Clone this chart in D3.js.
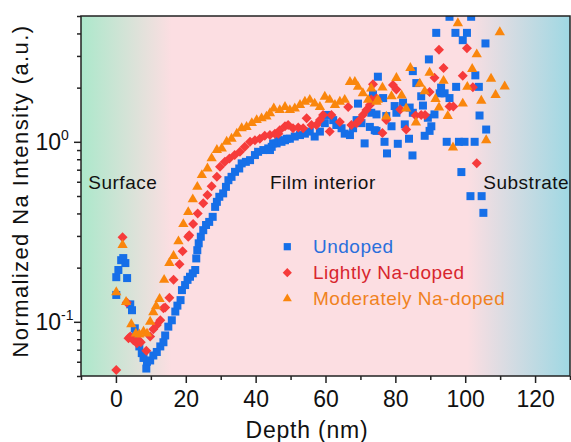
<!DOCTYPE html>
<html>
<head>
<meta charset="utf-8">
<script src="https://cdn.jsdelivr.net/npm/d3@7"></script>
<style>
  body { margin: 0; background: #fff; }
  text { font-family: "Liberation Sans", Arial, sans-serif; }
</style>
</head>
<body>
<div id="vis"></div>
<script>
// depth (nm), normalized Na intensity
var undoped = [[0.1,0.141],[0.1,0.177],[0.7,0.194],[1.5,0.22],[2.1,0.226],[2.7,0.212],[3.2,0.175],[4.1,0.125],[4.6,0.116],
  [5.4,0.092],[5.8,0.084],[6.7,0.073],[7.4,0.067],[7.9,0.063],[8.7,0.055],[8.9,0.060],[9.8,0.061],[10.7,0.065],[11.7,0.068],
  [12.7,0.073],[13.6,0.077],[14.1,0.084],[15.0,0.094],[16.0,0.102],[17.0,0.114],[17.6,0.123],[18.5,0.132],[18.9,0.150],
  [19.8,0.160],[20.5,0.171],[21.2,0.178],[22.0,0.186],[22.7,0.194],[23.0,0.225],[23.3,0.25],[23.7,0.273],[24.3,0.297],
  [25.0,0.323],[25.8,0.345],[26.7,0.359],[27.7,0.383],[28.4,0.435],[28.9,0.464],[29.6,0.495],[30.7,0.517],[31.5,0.562],
  [32.2,0.612],[33.1,0.639],[34.1,0.681],[35.3,0.711],[36.0,0.759],[37.2,0.774],[38.4,0.791],[39.8,0.844],[40.7,0.88],
  [42.2,0.90],[43.6,0.919],[44.1,0.90],[44.6,0.938],[45.0,0.98],[46.0,0.98],[46.5,1.02],[47.4,1.0],[48.4,1.02],[48.9,1.04],
  [49.8,1.04],[51.2,1.07],[52.7,1.09],[54.1,1.11],[55.5,1.14],[56.9,1.07],[58.4,1.14],[59.8,1.27],[60.7,1.41],[62.2,1.32],
  [63.1,1.24],[64.6,1.19],[65.5,1.11],[67.0,1.09],[67.9,1.19],[68.9,1.32],[69.3,1.63],[70.3,1.27],[71.2,0.98],[72.7,1.21],
  [73.1,1.45],[73.6,1.83],[74.1,1.16],[74.6,1.42],[74.6,1.15],[75.0,2.3],[76.5,1.75],[76.9,1.0],[77.4,1.39],[77.6,0.862],
  [78.9,1.22],[79.8,1.58],[80.3,1.45],[80.7,0.975],[82.2,1.65],[82.7,1.25],[83.9,1.04],[84.1,1.55],[84.9,0.84],[85.0,2.47],
  [85.0,1.45],[86.0,2.12],[87.4,1.79],[87.9,1.59],[88.4,1.08],[89.3,1.36],[89.6,2.87],[89.8,1.15],[90.3,1.22],[91.2,1.42],
  [91.7,4.03],[92.7,1.86],[93.1,2.0],[94.1,1.86],[94.7,1.0],[95.5,1.75],[95.5,4.95],[97.2,4.03],[97.4,2.02],[98.2,1.0],
  [98.9,0.679],[99.3,3.67],[99.8,1.0],[100.5,4.03],[101.5,0.499],[101.7,4.95],[102.7,1.0],[102.9,2.34],[103.9,2.02],
  [104.1,1.40],[104.7,0.499],[105.2,0.403],[105.8,3.52],[106.0,1.17]];

var lightly = [[0.1,0.054],[1.9,0.295],[3.1,0.128],[3.6,0.081],[4.1,0.083],[5.0,0.079],[6.0,0.076],[6.5,0.079],[7.1,0.077],
  [8.7,0.069],[9.8,0.083],[10.7,0.091],[11.7,0.096],[12.7,0.102],[13.6,0.119],[14.1,0.12],[15.3,0.136],[16.5,0.171],
  [18.2,0.209],[19.1,0.247],[20.7,0.297],[21.0,0.303],[22.1,0.349],[23.4,0.40],[25.0,0.455],[26.2,0.506],[27.4,0.567],
  [28.9,0.639],[29.8,0.726],[31.2,0.774],[32.5,0.809],[34.0,0.844],[35.5,0.88],[36.9,0.94],[38.4,1.0],[39.8,1.02],
  [41.2,1.04],[42.6,1.08],[44.1,1.09],[45.5,1.11],[46.5,1.11],[46.9,1.16],[48.4,1.22],[49.3,1.24],[50.7,1.19],[52.2,1.20],
  [53.6,1.19],[54.6,1.35],[56.0,1.24],[57.4,1.24],[58.4,1.32],[59.3,1.41],[61.2,1.14],[61.7,1.41],[64.1,1.29],[66.5,1.56],
  [67.4,1.24],[68.9,1.27],[69.8,1.32],[70.7,1.41],[71.7,1.50],[72.7,1.60],[73.1,1.72],[73.6,2.09],[74.6,1.74],[76.3,1.12],
  [77.4,1.32],[79.3,2.07],[80.3,1.95],[81.4,1.51],[83.1,1.17],[85.8,1.40],[87.4,1.41],[88.5,1.41],[89.8,1.89],[91.2,2.27],
  [92.5,3.25],[93.8,2.57],[95.5,1.57],[96.6,1.57],[99.3,2.33],[100.5,3.31],[102.2,2.01],[103.3,0.76]];

var moderately = [[0.1,0.146],[1.9,0.267],[2.9,0.129],[4.4,0.097],[5.7,0.086],[6.7,0.085],[7.9,0.088],[8.9,0.086],[9.8,0.10],
  [10.7,0.113],[11.5,0.122],[12.5,0.134],[13.8,0.171],[15.3,0.212],[16.5,0.232],[17.9,0.28],[19.3,0.349],[20.7,0.407],
  [22.0,0.479],[23.3,0.562],[24.6,0.653],[26.2,0.711],[27.4,0.809],[28.9,0.90],[30.3,0.919],[31.7,1.0],[33.1,1.04],
  [34.6,1.11],[36.0,1.19],[37.4,1.21],[38.9,1.27],[40.3,1.32],[41.7,1.35],[43.1,1.38],[44.1,1.44],[45.2,1.53],[46.9,1.50],
  [48.4,1.56],[49.8,1.50],[51.2,1.53],[52.7,1.60],[54.1,1.67],[55.5,1.71],[56.9,1.63],[58.4,1.56],[59.8,1.78],[61.2,1.71],
  [62.7,1.60],[64.1,1.67],[65.5,1.71],[67.0,2.15],[68.4,2.15],[69.3,2.02],[70.7,1.86],[72.2,1.71],[73.1,1.98],[74.6,1.67],
  [75.0,1.71],[76.3,2.0],[77.4,1.38],[78.9,1.79],[80.3,2.26],[81.8,1.81],[83.1,1.53],[84.3,2.57],[85.9,1.28],[87.0,2.10],
  [88.4,1.91],[89.8,2.42],[91.5,1.73],[92.5,1.55],[93.8,2.18],[95.0,1.39],[96.5,0.93],[97.9,4.56],[99.3,1.63],[100.6,2.02],
  [102.0,2.54],[103.3,3.06],[104.6,1.69],[106.0,1.02],[107.4,2.24],[108.7,1.82],[109.9,4.06],[111.3,2.03]];

var seriesNames = ['Undoped', 'Lightly Na-doped', 'Moderately Na-doped'];
var xMajor = [0, 20, 40, 60, 80, 100, 120];
var xMinor = [-10, 10, 30, 50, 70, 90, 110, 130];
var yMajor = [0.1, 1];
var yMajorExp = ['-1', '0'];
var yMinor = [0.05, 0.06, 0.07, 0.08, 0.09, 0.2, 0.3, 0.4, 0.5, 0.6, 0.7, 0.8, 0.9, 2, 3, 4, 5];
var regions = [{name: 'Surface', x: 88.3}, {name: 'Film interior', x: 270}, {name: 'Substrate', x: 483.3}];

var width = 571, height = 442;
var plotLeft = 81, plotRight = 570, plotTop = 16, plotBottom = 376;

var x = d3.scaleLinear().domain([-10, 130]).range([plotLeft, plotRight]);
var y = d3.scaleLog().domain([0.05, 5]).range([plotBottom, plotTop]);

var svg = d3.select('#vis').append('svg')
  .attr('width', width)
  .attr('height', height);

var defs = svg.append('defs');
var grad = defs.append('linearGradient')
  .attr('id', 'bg')
  .attr('gradientUnits', 'userSpaceOnUse')
  .attr('x1', plotLeft).attr('x2', plotRight).attr('y1', 0).attr('y2', 0);
grad.append('stop').attr('offset', 0).attr('stop-color', '#ace8cb');
grad.append('stop').attr('offset', 0.185).attr('stop-color', '#fcdee2');
grad.append('stop').attr('offset', 0.79).attr('stop-color', '#fcdee2');
grad.append('stop').attr('offset', 1).attr('stop-color', '#9fd8e3');

defs.append('clipPath').attr('id', 'plotclip')
  .append('rect')
  .attr('x', plotLeft).attr('y', plotTop)
  .attr('width', plotRight - plotLeft).attr('height', plotBottom - plotTop);

svg.append('rect')
  .attr('x', plotLeft).attr('y', plotTop)
  .attr('width', plotRight - plotLeft).attr('height', plotBottom - plotTop)
  .attr('fill', 'url(#bg)');

// region labels
svg.selectAll('.region')
  .data(regions)
  .enter().append('text')
  .attr('class', 'region')
  .attr('x', function (d) { return d.x; })
  .attr('y', 188.5)
  .style('font-size', '19px')
  .style('letter-spacing', '0.5px')
  .style('fill', '#111')
  .text(function (d) { return d.name; });

var marks = svg.append('g').attr('clip-path', 'url(#plotclip)');

var square = d3.symbol().type(d3.symbolSquare).size(64);
var diamond = d3.symbol().type(d3.symbolSquare).size(50);
var triangle = d3.symbol().type(d3.symbolTriangle).size(46);

var colors = ['#166fe8', '#f63b3b', '#fa860c'];
var textColors = ['#2a6fdc', '#d8262e', '#f0821e'];

function drawSeries(data, sym, color, rot) {
  marks.append('g').selectAll('path')
    .data(data)
    .enter().append('path')
    .attr('d', sym)
    .attr('transform', function (d) {
      return 'translate(' + x(d[0]) + ',' + y(d[1]) + ')' + (rot ? ' rotate(45)' : '');
    })
    .attr('fill', color);
}

drawSeries(undoped, square, colors[0], false);
drawSeries(lightly, diamond, colors[1], true);
drawSeries(moderately, triangle, colors[2], false);

// axes
function styleAxis(g) {
  g.select('.domain').remove();
  g.selectAll('line').attr('stroke', '#222').attr('stroke-width', 1.5);
}

var xAxis = svg.append('g')
  .attr('transform', 'translate(0,' + plotBottom + ')')
  .call(d3.axisBottom(x).tickValues(xMajor).tickSize(7).tickSizeOuter(0))
  .call(styleAxis);
xAxis.attr('font-family', null).attr('font-size', null);
xAxis.selectAll('text')
  .attr('y', 31).attr('dy', 0)
  .style('font-size', '23px')
  .style('fill', '#111');

svg.append('g')
  .attr('transform', 'translate(0,' + plotBottom + ')')
  .call(d3.axisBottom(x).tickValues(xMinor).tickSize(4).tickSizeOuter(0).tickFormat(''))
  .call(styleAxis);

svg.append('g')
  .attr('transform', 'translate(' + plotLeft + ',0)')
  .call(d3.axisLeft(y).tickValues(yMajor).tickSize(7).tickSizeOuter(0).tickFormat(''))
  .call(styleAxis);

svg.append('g')
  .attr('transform', 'translate(' + plotLeft + ',0)')
  .call(d3.axisLeft(y).tickValues(yMinor).tickSize(4).tickSizeOuter(0).tickFormat(''))
  .call(styleAxis);

var yLab = svg.selectAll('.ylab')
  .data(yMajor)
  .enter().append('text')
  .attr('class', 'ylab')
  .attr('x', 35.5)
  .attr('y', function (d) { return y(d) + 8.5; })
  .style('font-size', '23px')
  .style('fill', '#111');
yLab.append('tspan').text('10');
yLab.append('tspan')
  .attr('dy', -10)
  .style('font-size', '14px')
  .text(function (d, i) { return yMajorExp[i]; });

// frame
svg.append('rect')
  .attr('x', plotLeft).attr('y', plotTop)
  .attr('width', plotRight - plotLeft).attr('height', plotBottom - plotTop)
  .attr('fill', 'none')
  .attr('stroke', '#222')
  .attr('stroke-width', 1.5);

svg.append('text')
  .attr('x', 307)
  .attr('y', 438)
  .attr('text-anchor', 'middle')
  .style('font-size', '23px')
  .style('letter-spacing', '0.8px')
  .style('fill', '#111')
  .text('Depth (nm)');

svg.append('text')
  .attr('transform', 'translate(28,191) rotate(-90)')
  .attr('text-anchor', 'middle')
  .style('font-size', '22px')
  .style('letter-spacing', '1.4px')
  .style('fill', '#111')
  .text('Normalized Na Intensity (a.u.)');

// legend
var legendSyms = [
  d3.symbol().type(d3.symbolSquare).size(52),
  d3.symbol().type(d3.symbolSquare).size(42),
  d3.symbol().type(d3.symbolTriangle).size(36)
];
var legend = svg.append('g');
seriesNames.forEach(function (name, i) {
  var cy = 246.7 + i * 26;
  legend.append('path')
    .attr('d', legendSyms[i])
    .attr('transform', 'translate(287.3,' + cy + ')' + (i === 1 ? ' rotate(45)' : ''))
    .attr('fill', colors[i]);
  legend.append('text')
    .attr('x', 313)
    .attr('y', cy + 6.5)
    .style('font-size', '19px')
    .style('letter-spacing', '0.5px')
    .style('fill', textColors[i])
    .text(name);
});
</script>
</body>
</html>
